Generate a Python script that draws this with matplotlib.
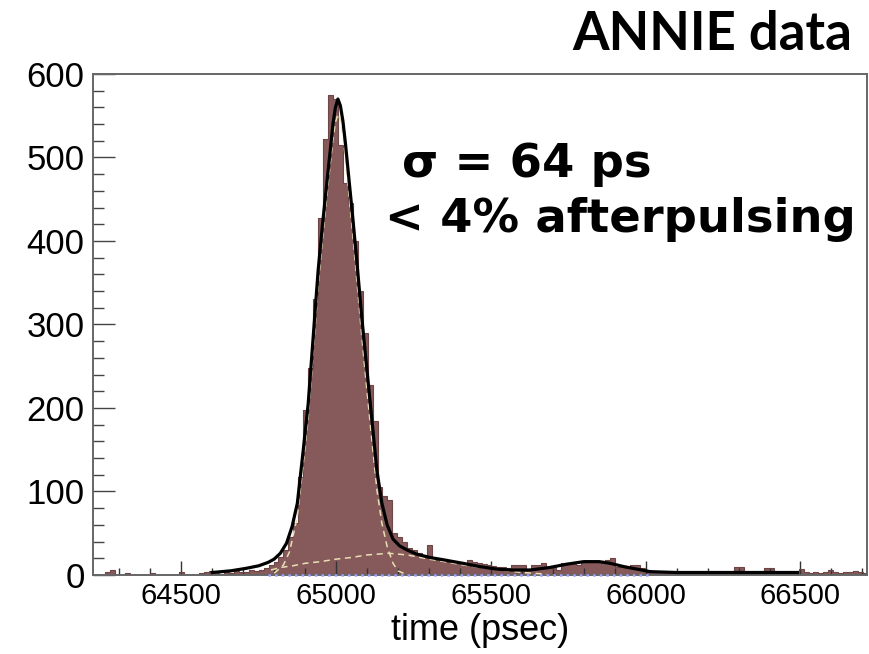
import numpy as np
import matplotlib
matplotlib.use("Agg")
import matplotlib.pyplot as plt
from matplotlib.ticker import MultipleLocator

# histogram: 16 ps bins starting at 64222 ps
bin_start = 64222
bin_width = 16
counts = [
    0, 0, 4, 6, 0, 0, 2, 0, 0, 0,
    0, 2, 0, 0, 0, 0, 0, 3, 0, 0,
    0, 2, 4, 5, 3, 0, 4, 2, 5, 3,
    4, 6, 5, 6, 8, 12, 16, 22, 30, 45,
    62, 117, 197, 248, 331, 427, 522, 575, 570, 515,
    470, 445, 400, 340, 290, 227, 185, 105, 95, 90,
    50, 45, 40, 32, 30, 26, 22, 36, 18, 20,
    19, 16, 15, 14, 12, 18, 16, 14, 13, 12,
    11, 10, 9, 8, 12, 12, 12, 6, 12, 12,
    14, 8, 10, 6, 14, 14, 14, 12, 16, 16,
    16, 16, 16, 18, 20, 10, 10, 8, 12, 12,
    8, 6, 5, 4, 3, 4, 2, 3, 4, 3,
    2, 3, 2, 4, 3, 2, 3, 2, 4, 10,
    10, 3, 2, 3, 4, 8, 8, 2, 3, 2,
    3, 4, 7, 3, 2, 3, 2, 4, 6, 3,
    2, 4, 3, 5, 3, 2,
]

# total fit curve
fit_t = [64600, 64660, 64710, 64750, 64780, 64800, 64820, 64840, 64858, 64875,
         64893, 64910, 64926, 64942, 64955, 64968, 64980, 64990, 64998, 65006,
         65014, 65022, 65030, 65039, 65055, 65068, 65084, 65100, 65116, 65132,
         65148, 65165, 65184, 65205, 65229, 65260, 65303, 65350, 65410, 65465,
         65520, 65562, 65627, 65690, 65746, 65800, 65850, 65885, 65930, 65972,
         66014, 66100, 66300, 66490]
fit_y = [3, 5, 8, 11, 15, 19, 26, 38, 58, 86,
         146, 205, 284, 364, 415, 462, 504, 540, 560, 570,
         562, 544, 518, 484, 424, 372, 305, 245, 185, 125,
         86, 60, 43, 35, 30, 25, 21, 18, 14, 10,
         7, 6, 6, 9, 13, 16, 16, 14, 10, 7,
         4, 3, 3, 3]

# main gaussian component (dashed)
main_t = [64800, 64830, 64850, 64875, 64893, 64910, 64926, 64942, 64955, 64968,
          64980, 64990, 64998, 65006, 65014, 65022, 65030, 65039, 65055, 65068,
          65084, 65100, 65116, 65132, 65148, 65165, 65184, 65200, 65230]
main_y = [2, 12, 28, 70, 130, 188, 265, 345, 398, 445,
          488, 522, 542, 552, 545, 527, 500, 465, 403, 350,
          282, 220, 160, 102, 62, 34, 14, 5, 0]

# broad late component (dashed)
broad_t = [64790, 64820, 64860, 64900, 64950, 65000, 65050, 65100, 65170, 65230,
           65300, 65350, 65410, 65470, 65530, 65600, 65680]
broad_y = [6, 9, 11, 14, 16, 19, 21, 24, 26, 24,
           19, 16, 12, 9, 6, 3, 1]

base_t = [64780, 66010]
base_y = [0, 0]

W, H = 870, 654

plt.rcParams['font.family'] = ['Liberation Sans', 'DejaVu Sans']

fig = plt.figure(figsize=(W / 100, H / 100), dpi=100)
ax = fig.add_axes([0.1069, 0.1208, 0.8897, 0.7661])

edges = bin_start + bin_width * np.arange(len(counts) + 1)
ax.stairs(counts, edges, fill=True, color='#865a5a', zorder=1)
ax.stairs(counts, edges, color='#6e4646', lw=0.8, zorder=2)

ax.plot(base_t, base_y, color='#a0a0ff', ls=':', lw=1.8, zorder=3, clip_on=False)
ax.plot(broad_t, broad_y, color='#e8dfb4', ls=(0, (4, 3)), lw=1.1, zorder=3)
ax.plot(main_t, main_y, color='#e8dfb4', ls=(0, (4, 3)), lw=1.1, zorder=3)
ax.plot(fit_t, fit_y, color='black', lw=2.3, zorder=4)

ax.set_xlim(64215, 66715)
ax.set_ylim(0, 600)

ax.xaxis.set_major_locator(MultipleLocator(500))
ax.xaxis.set_minor_locator(MultipleLocator(100))
ax.yaxis.set_major_locator(MultipleLocator(100))
ax.yaxis.set_minor_locator(MultipleLocator(20))

ax.tick_params(axis='x', which='major', direction='in', length=10, width=1,
               color='#333333', labelsize=21, pad=5)
ax.tick_params(axis='x', which='minor', direction='in', length=5, width=1,
               color='#333333')
ax.tick_params(axis='y', which='major', direction='in', length=16, width=1,
               color='#444444', labelsize=25, pad=6)
ax.tick_params(axis='y', which='minor', direction='in', length=8, width=1,
               color='#444444')

for s in ax.spines.values():
    s.set_color('#666666')
    s.set_linewidth(1.4)

ax.set_xlabel('time (psec)', fontsize=26, labelpad=2)

# annotation placed in figure pixels (from top-left)
fig.text(402 / W, 1 - 177 / H, 'σ = 64 ps', fontsize=33.5, fontweight='bold',
         family='DejaVu Sans', ha='left', va='baseline')
fig.text(385 / W, 1 - 232 / H, '< 4% afterpulsing', fontsize=33.5,
         fontweight='bold', family='DejaVu Sans', ha='left', va='baseline')

fig.text(852 / W, 1 - 50 / H, 'ANNIE data', fontsize=38, fontweight='bold',
         family='Lato', ha='right', va='baseline')

fig.savefig('out.png', dpi=100)
